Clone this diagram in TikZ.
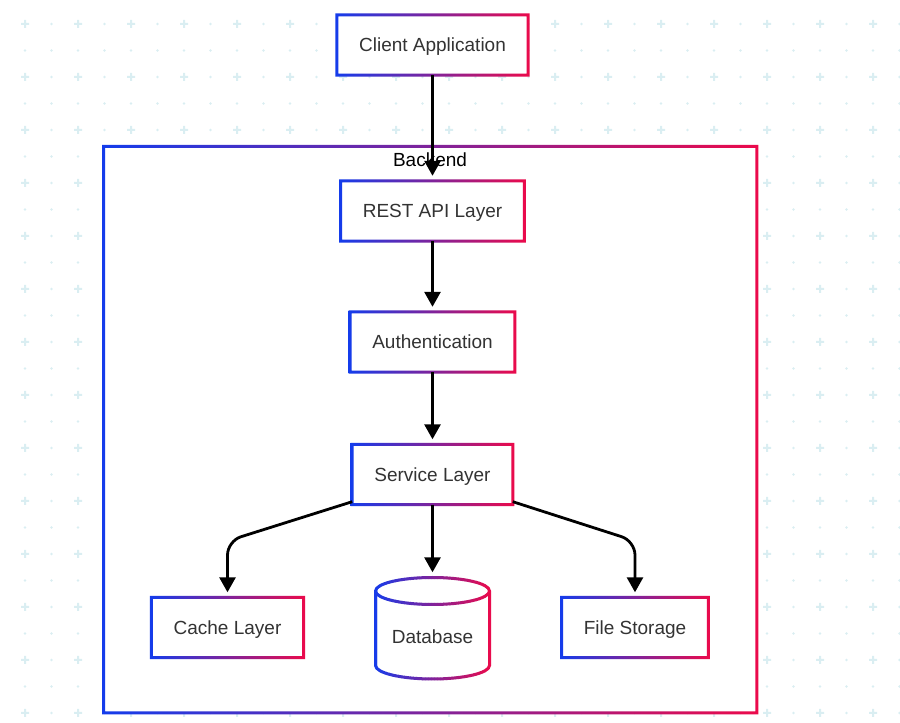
\documentclass[tikz,border=0pt]{standalone}
\usepackage{fontspec}
\setmainfont{Liberation Sans}
\usetikzlibrary{arrows.meta}
\definecolor{cblue}{RGB}{20,60,235}
\definecolor{cred}{RGB}{235,10,75}
\definecolor{txtgray}{RGB}{51,51,51}
\definecolor{gridc}{RGB}{218,238,242}
\tikzset{
	box/.style={fill=white, inner xsep=22pt, minimum height=60pt, font=\fontsize{19}{23}\selectfont, text=txtgray, text height=13.6pt, text depth=0pt},
	lbl/.style={font=\fontsize{19}{23}\selectfont, text height=13.6pt, text depth=0pt},
	arr/.style={-{Triangle[length=15pt,width=16pt]}, line width=2.8pt, shorten >=5pt}
}
% gradient border round a rectangular node
\newcommand\gradring[1]{\shade[left color=cblue, right color=cred, even odd rule] ([xshift=-1.5pt,yshift=-1.5pt]#1.south west) rectangle ([xshift=1.5pt,yshift=1.5pt]#1.north east) ([xshift=1.5pt,yshift=1.5pt]#1.south west) rectangle ([xshift=-1.5pt,yshift=-1.5pt]#1.north east);}
% database cylinder outline
\newcommand\dbpath[1]{\path[#1] (375.5,132) -- (375.5,57.5) arc[start angle=180,end angle=360,x radius=57,y radius=13.5] -- (489.5,132) arc[start angle=0,end angle=180,x radius=57,y radius=13.5] -- cycle (375.5,132) arc[start angle=180,end angle=360,x radius=57,y radius=13.5];}
\begin{document}
\begin{tikzpicture}[x=1pt,y=1pt]
	\useasboundingbox (0,0) rectangle (900,723);
	% background grid
	\foreach \i in {0,...,33}{
		\foreach \j in {0,...,26}{
			\pgfmathsetmacro\px{25+26.5*\i}
			\pgfmathsetmacro\py{699-26.5*\j}
			\pgfmathtruncatemacro\odd{mod(\i,2)+mod(\j,2)}
			\ifnum\odd=0
				\fill[gridc] ({\px-4},{\py-1}) rectangle ({\px+4},{\py+1}) ({\px-1},{\py-4}) rectangle ({\px+1},{\py+4});
			\else
				\fill[gridc] (\px,\py) circle (1.3);
			\fi
		}
	}
	\node[fill=white, inner sep=0, minimum width=653pt, minimum height=566pt, anchor=north west] (backend) at (103.5,576.5) {};
	\gradring{backend}
	\node[lbl] (backendlbl) at (430,563) {Backend};
	\node[box] (client) at (432.5,678) {Client Application};
	\gradring{client}
	\node[box] (rest) at (432.5,512) {REST API Layer};
	\gradring{rest}
	\node[box] (auth) at (432.5,381) {Authentication};
	\gradring{auth}
	\node[box] (service) at (432.5,248.5) {Service Layer};
	\gradring{service}
	\node[box] (cache) at (227.5,95.5) {Cache Layer};
	\gradring{cache}
	\node[box] (file) at (635,95.5) {File Storage};
	\gradring{file}
	% database
	\dbpath{fill=white}
	\foreach \i in {0,...,38}{
		\pgfmathsetmacro\mix{100*(\i+0.5)/39}
		\begin{scope}
			\clip ({374+3*\i},40) rectangle ({377.3+3*\i},150);
			\dbpath{draw=cred!\mix!cblue, line width=3pt}
		\end{scope}
	}
	\node[inner sep=0, minimum width=114pt, minimum height=101pt] (db) at (432.5,95) {};
	\node[lbl, text=txtgray] (dblbl) at (432.5,86) {Database};
	\coordinate (cachebend) at (227.5,182);
	\coordinate (filebend) at (635,182);
	% connectors
	\draw[arr] (client) -- (rest);
	\draw[arr] (rest) -- (auth);
	\draw[arr] (auth) -- (service);
	\draw[arr] (service) -- (db);
	\draw[arr, rounded corners=14pt] ([yshift=3pt]service.south west) -- (cachebend) -- (cache);
	\draw[arr, rounded corners=14pt] ([yshift=3pt]service.south east) -- (filebend) -- (file);
\end{tikzpicture}
\end{document}
